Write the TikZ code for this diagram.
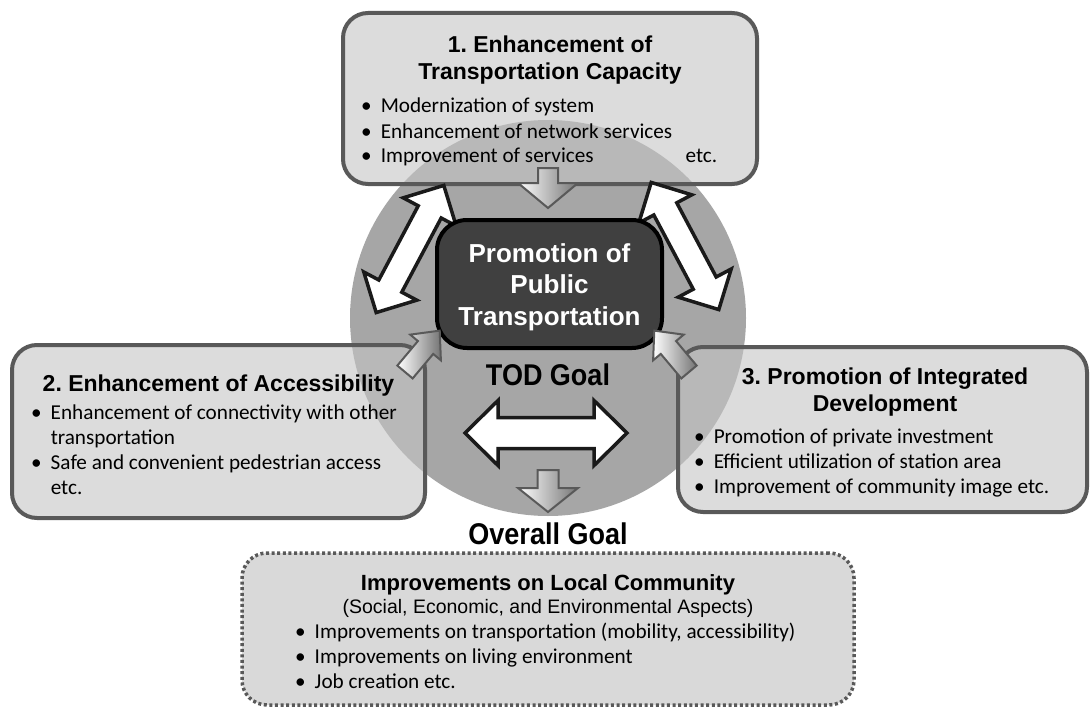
\documentclass[tikz,border=0pt]{standalone}
\usepackage{fontspec}
\setmainfont{Carlito}
\newfontfamily\headfont{Liberation Sans}
\newfontfamily\goalfont[FakeStretch=0.9]{Liberation Sans}
\frenchspacing
\definecolor{todline}{HTML}{595959}
\definecolor{todfill}{HTML}{C4C4C4}
\definecolor{todpale}{HTML}{D9D9D9}
\definecolor{todring}{HTML}{A6A6A6}
\definecolor{todcore}{HTML}{404040}
\definecolor{todedge}{HTML}{1A1A1A}

% block arrow: shaft length, shaft half width, head length, head half width
\newcommand{\onehead}[5][]{%
  \draw[#1] (0,-#3) -- (#2,-#3) -- (#2,-#5) -- ({#2+#4},0) -- (#2,#5) -- (#2,#3) -- (0,#3) -- cycle;}
% double block arrow: half shaft, shaft half width, head length, head half width
\newcommand{\twohead}[5][]{%
  \draw[#1] (-#2,-#3) -- (#2,-#3) -- (#2,-#5) -- ({#2+#4},0) -- (#2,#5) -- (#2,#3)
    -- (-#2,#3) -- (-#2,#5) -- ({-#2-#4},0) -- (-#2,-#5) -- cycle;}

\tikzset{
  aimbox/.style={draw=todline, line width=4pt, rounded corners=25pt, fill=todfill, fill opacity=0.6},
  overallbox/.style={draw=todline, line width=3.5pt, dash pattern=on 3pt off 2.6pt, rounded corners=25pt, fill=todpale},
  corebox/.style={draw=black, line width=4pt, rounded corners=30pt, fill=todcore},
  aimtitle/.style={font=\headfont\bfseries\fontsize{23}{27}\selectfont, inner sep=0pt, anchor=base},
  aimitems/.style={font=\fontsize{21.2}{25}\selectfont, inner sep=0pt, anchor=base west},
  goaltext/.style={font=\goalfont\bfseries\fontsize{30}{32}\selectfont, inner sep=0pt, anchor=base},
  linkarrow/.style={draw=todedge, fill=white, line width=3.5pt, line join=miter},
  feedarrow/.style={draw=todline, line width=2pt, line join=miter, left color=white, right color=todring!70!black}
}

\begin{document}
\begin{tikzpicture}[x=1pt, y=-1pt]
  \useasboundingbox (0,0) rectangle (1090,709);
  % TOD ring
  \fill[todring] (548,318) circle [radius=198];

  % goal boxes
  \node[aimbox, minimum width=414, minimum height=171] (capacity) at (550,98.5) {};
  \node[aimbox, minimum width=413, minimum height=173] (access) at (218.5,431.5) {};
  \node[aimbox, minimum width=409, minimum height=165] (integrated) at (882.5,429.5) {};
  \node[overallbox, minimum width=612, minimum height=152] (community) at (548,629) {};

  % two-way links
  \twohead[linkarrow, shift={(410,249)}, rotate=62]{42}{13}{30}{30}
  \twohead[linkarrow, shift={(685,246)}, rotate=-62]{42}{13}{30}{30}
  \twohead[linkarrow, shift={(546,433)}]{48}{15.5}{33}{32.5}

  % core goal
  \node[corebox, minimum width=225, minimum height=128] (transit) at (549.5,284) {};
  \node[font=\headfont\bfseries\fontsize{26}{31.5}\selectfont, text=white, inner sep=0pt, anchor=base]
    (transittext) at (549.5,262) {\begin{tabular}[t]{@{}c@{}}Promotion of\\Public\\Transportation\end{tabular}};

  % feeding arrows
  \onehead[feedarrow, shift={(548,168)}, rotate=-90]{15}{10}{25}{30}
  \onehead[feedarrow, shift={(548,470)}, rotate=-90]{18}{10.5}{24}{30}
  \onehead[feedarrow, shift={(405,372)}, rotate=50]{32}{10}{22}{20}
  \onehead[feedarrow, shift={(689,372)}, rotate=130]{32}{10}{22}{20}

  % labels
  \node[goaltext] (todgoal) at (548,385) {TOD Goal};
  \node[goaltext] (overallgoal) at (548,544) {Overall Goal};

  % 1. capacity
  \node[aimtitle] (capacitytitle) at (550,53)
    {\begin{tabular}[t]{@{}c@{}}1. Enhancement of\\Transportation Capacity\end{tabular}};
  \node[aimitems] (capacityitems) at (361,113) {\begin{tabular}[t]{@{}l@{\hspace{9pt}}l@{}}
    \textbullet & Modernization of system\\
    \textbullet & Enhancement of network services\\
    \textbullet & Improvement of services\hspace{92pt}etc.
  \end{tabular}};

  % 2. accessibility
  \node[aimtitle] (accesstitle) at (218.5,391) {2. Enhancement of Accessibility};
  \node[aimitems] (accessitems) at (31,419) {\begin{tabular}[t]{@{}l@{\hspace{9pt}}l@{}}
    \textbullet & Enhancement of connectivity with other\\
    & transportation\\
    \textbullet & Safe and convenient pedestrian access\\
    & etc.
  \end{tabular}};

  % 3. integrated development
  \node[aimtitle] (integratedtitle) at (885,384)
    {\begin{tabular}[t]{@{}c@{}}3. Promotion of Integrated\\Development\end{tabular}};
  \node[aimitems] (integrateditems) at (694,443) {\begin{tabular}[t]{@{}l@{\hspace{9pt}}l@{}}
    \textbullet & Promotion of private investment\\
    \textbullet & Efficient utilization of station area\\
    \textbullet & Improvement of community image etc.
  \end{tabular}};

  % overall goal box
  \node[aimtitle, font=\headfont\bfseries\fontsize{22}{25}\selectfont] (communitytitle) at (548,590)
    {Improvements on Local Community};
  \node[aimtitle, font=\headfont\fontsize{19.5}{23}\selectfont] (communitysub) at (548,613)
    {(Social, Economic, and Environmental Aspects)};
  \node[aimitems] (communityitems) at (295,638) {\begin{tabular}[t]{@{}l@{\hspace{9pt}}l@{}}
    \textbullet & Improvements on transportation (mobility, accessibility)\\
    \textbullet & Improvements on living environment\\
    \textbullet & Job creation etc.
  \end{tabular}};
\end{tikzpicture}
\end{document}
